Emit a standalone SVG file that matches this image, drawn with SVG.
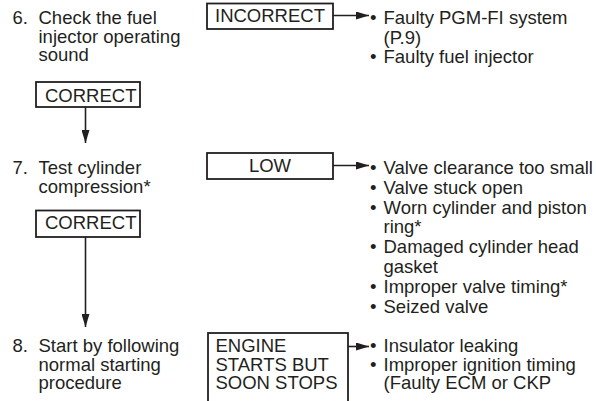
<svg xmlns="http://www.w3.org/2000/svg" width="596" height="401" viewBox="0 0 596 401">
<defs>
<style>
text{font-family:"Liberation Sans",Arial,sans-serif;font-size:18.5px;fill:#231f20}
.c{text-anchor:middle}
.box{fill:#fff;stroke:#231f20;stroke-width:1.8}
.conn{fill:none;stroke:#231f20;stroke-width:1.6}
</style>
<marker id="ah" viewBox="0 0 13 8" refX="13" refY="4" markerWidth="13" markerHeight="8" markerUnits="userSpaceOnUse" orient="auto">
<path d="M0,0 L13,4 L0,8 z" fill="#231f20"/>
</marker>
</defs>
<rect width="596" height="401" fill="#fff"/>
<g id="connectors">
<path class="conn" d="M333,15.5 H369" marker-end="url(#ah)"/>
<path class="conn" d="M333,165.5 H369" marker-end="url(#ah)"/>
<path class="conn" d="M348,346.5 H369" marker-end="url(#ah)"/>
<path class="conn" d="M85.5,107 V143" marker-end="url(#ah)"/>
<path class="conn" d="M85.5,237 V327" marker-end="url(#ah)"/>
</g>
<g id="step6">
<text x="12.5" y="24">6.</text>
<text x="38.5" y="24">Check the fuel</text>
<text x="38.5" y="42.5">injector operating</text>
<text x="38.5" y="61">sound</text>
</g>
<g id="incorrect">
<rect class="box" x="207" y="3.5" width="126" height="25.5"/>
<text class="c" x="270" y="22">INCORRECT</text>
</g>
<g id="causes6">
<text x="370" y="24">•</text><text x="383.5" y="24">Faulty PGM-FI system</text>
<text x="383.5" y="43.5">(P.9)</text>
<text x="370" y="63">•</text><text x="383.5" y="63">Faulty fuel injector</text>
</g>
<g id="correct1">
<rect class="box" x="36" y="82" width="104" height="25"/>
<text x="45" y="101.5">CORRECT</text>
</g>
<g id="step7">
<text x="12.5" y="174">7.</text>
<text x="38.5" y="174">Test cylinder</text>
<text x="38.5" y="193">compression*</text>
</g>
<g id="low">
<rect class="box" x="207" y="153" width="126" height="26"/>
<text class="c" x="270" y="171.7">LOW</text>
</g>
<g id="causes7">
<text x="370" y="174">•</text><text x="383.5" y="174">Valve clearance too small</text>
<text x="370" y="193.8">•</text><text x="383.5" y="193.8">Valve stuck open</text>
<text x="370" y="213.6">•</text><text x="383.5" y="213.6">Worn cylinder and piston</text>
<text x="383.5" y="233.4">ring*</text>
<text x="370" y="253.2">•</text><text x="383.5" y="253.2">Damaged cylinder head</text>
<text x="383.5" y="273">gasket</text>
<text x="370" y="292.8">•</text><text x="383.5" y="292.8">Improper valve timing*</text>
<text x="370" y="312.6">•</text><text x="383.5" y="312.6">Seized valve</text>
</g>
<g id="correct2">
<rect class="box" x="36" y="210.5" width="104" height="26.5"/>
<text x="45" y="228.5">CORRECT</text>
</g>
<g id="step8">
<text x="12.5" y="352">8.</text>
<text x="38.5" y="352">Start by following</text>
<text x="38.5" y="370.5">normal starting</text>
<text x="38.5" y="389">procedure</text>
</g>
<g id="engine">
<rect class="box" x="208" y="333" width="140" height="90"/>
<text x="215.5" y="352">ENGINE</text>
<text x="215.5" y="370.5">STARTS BUT</text>
<text x="215.5" y="389">SOON STOPS</text>
</g>
<g id="causes8">
<text x="370" y="352">•</text><text x="383.5" y="352">Insulator leaking</text>
<text x="370" y="370.5">•</text><text x="383.5" y="370.5">Improper ignition timing</text>
<text x="383.5" y="389">(Faulty ECM or CKP</text>
</g>
</svg>
